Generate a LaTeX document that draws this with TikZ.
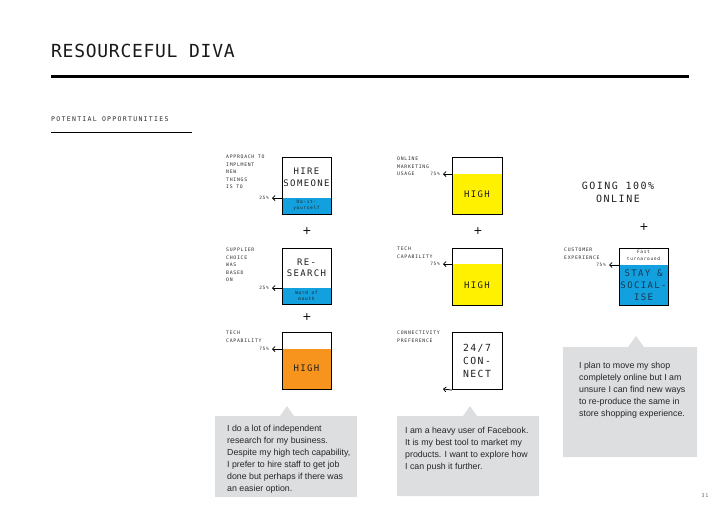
\documentclass[tikz,border=0pt]{standalone}
\usepackage{fontspec}
\setmainfont{Liberation Sans}
\newfontfamily\titlefont[LetterSpace=4]{DejaVu Sans Mono}
\newfontfamily\boxfont[LetterSpace=15]{DejaVu Sans Mono}
\newfontfamily\subfont[LetterSpace=20]{DejaVu Sans Mono}
\newfontfamily\plusfont{DejaVu Sans}
\usetikzlibrary{arrows.meta}
\definecolor{cblue}{RGB}{18,160,222}
\definecolor{corange}{RGB}{247,148,30}
\definecolor{cyellow}{RGB}{255,241,0}
\definecolor{cgray}{RGB}{221,222,224}
\definecolor{ctext}{RGB}{45,45,45}
\begin{document}
\begin{tikzpicture}[x=1pt,y=-1pt,
  lbl/.style={anchor=north west, inner sep=0, align=left, text=ctext, font=\boxfont\fontsize{4.8}{7.5}\selectfont},
  pct/.style={anchor=east, inner sep=0, text=ctext, font=\boxfont\fontsize{4.5}{5}\selectfont},
  boxframe/.style={draw=black, line width=1.1pt, anchor=north west, inner sep=0, minimum width=49pt},
  bigtxt/.style={inner sep=0, align=center, text=black!88, font=\boxfont\fontsize{9}{11.5}\selectfont},
  tinytxt/.style={inner sep=0, align=center, text=black!85, font=\boxfont\fontsize{4.5}{6.2}\selectfont},
  arr/.style={-{Straight Barb[length=2.5pt,width=5pt]}, line width=0.8pt},
  note/.style={anchor=north west, inner sep=0, align=left, text=black!85, font=\fontsize{8.8}{12}\selectfont},
  plussign/.style={inner sep=0, font=\plusfont\fontsize{11}{11}\selectfont}
]
\useasboundingbox (0,0) rectangle (728,515);

% title
\node[anchor=north west, inner sep=0, text=black!90, font=\titlefont\fontsize{18}{18}\selectfont] (title) at (51,44) {RESOURCEFUL DIVA};
\coordinate (r1a) at (51,76); \coordinate (r1b) at (689,76);
\draw[line width=3pt] (r1a) -- (r1b);
\node[anchor=north west, inner sep=0, text=ctext, font=\subfont\fontsize{6.5}{6.5}\selectfont] (sub) at (51,116) {POTENTIAL OPPORTUNITIES};
\coordinate (r2a) at (51,132); \coordinate (r2b) at (192,132);
\draw[line width=0.9pt] (r2a) -- (r2b);

% ---------- column 1 ----------
\node[lbl] (l11) at (226,155) {APPROACH TO\\IMPLMENT\\NEW\\THINGS\\IS TO};
\fill[cblue] (282,198) rectangle (331,214);
\node[boxframe, minimum height=57pt] (b11) at (282,157) {};
\node[bigtxt] (b11t) at (306.5,177.5) {HIRE\\SOMEONE};
\node[tinytxt] (b11s) at (306.5,205.5) {Do-it-\\yourself};
\coordinate (t11) at (272,198);
\draw[arr] (b11.west |- t11) -- (t11);
\node[pct] (p11) at ([xshift=-3pt]t11) {25\%};

\node[plussign] (pl11) at (307,231) {+};

\node[lbl] (l12) at (226,248) {SUPPLIER\\CHOICE\\WAS\\BASED\\ON};
\fill[cblue] (282,288) rectangle (331,304);
\node[boxframe, minimum height=56pt] (b12) at (282,248) {};
\node[bigtxt] (b12t) at (306.5,268) {RE-\\SEARCH};
\node[tinytxt] (b12s) at (306.5,296) {Word of\\mouth};
\coordinate (t12) at (272,288);
\draw[arr] (b12.west |- t12) -- (t12);
\node[pct] (p12) at ([xshift=-3pt]t12) {25\%};

\node[plussign] (pl12) at (307,317) {+};

\node[lbl] (l13) at (226,331) {TECH\\CAPABILITY};
\fill[corange] (282,349) rectangle (331,389);
\node[boxframe, minimum height=57pt] (b13) at (282,332) {};
\node[bigtxt] (b13t) at (306.5,368) {HIGH};
\coordinate (t13) at (272,349);
\draw[arr] (b13.west |- t13) -- (t13);
\node[pct] (p13) at ([xshift=-3pt]t13) {75\%};

% callout 1
\fill[cgray] (215,416) -- (280,416) -- (287,406) -- (294,416) -- (357,416) -- (357,497) -- (215,497) -- cycle;
\node[note] (n1) at (227,425) {I do a lot of independent\\research for my business.\\Despite my high tech capability,\\I prefer to hire staff to get job\\done but perhaps if there was\\an easier option.};

% ---------- column 2 ----------
\node[lbl] (l21) at (397,157) {ONLINE\\MARKETING\\USAGE};
\fill[cyellow] (452,174) rectangle (502,214);
\node[boxframe, minimum width=50pt, minimum height=57pt] (b21) at (452,157) {};
\node[bigtxt] (b21t) at (477,194) {HIGH};
\coordinate (t21) at (443,174);
\draw[arr] (b21.west |- t21) -- (t21);
\node[pct] (p21) at ([xshift=-3pt]t21) {75\%};

\node[plussign] (pl21) at (478,231) {+};

\node[lbl] (l22) at (397,247) {TECH\\CAPABILITY};
\fill[cyellow] (452,264) rectangle (502,305);
\node[boxframe, minimum width=50pt, minimum height=57pt] (b22) at (452,248) {};
\node[bigtxt] (b22t) at (477,285) {HIGH};
\coordinate (t22) at (443,264);
\draw[arr] (b22.west |- t22) -- (t22);
\node[pct] (p22) at ([xshift=-3pt]t22) {75\%};

\node[lbl] (l23) at (397,331) {CONNECTIVITY\\PREFERENCE};
\node[boxframe, minimum width=50pt, minimum height=57pt] (b23) at (452,332) {};
\node[bigtxt, font=\boxfont\fontsize{9.8}{12.7}\selectfont] (b23t) at (477,361) {24/7\\CON-\\NECT};
\coordinate (t23) at (443,389);
\draw[arr] (b23.south west) -- (t23);

% callout 2
\fill[cgray] (397,416) -- (463,416) -- (470,406) -- (477,416) -- (539,416) -- (539,496) -- (397,496) -- cycle;
\node[note] (n2) at (405,427) {I am a heavy user of Facebook.\\It is my best tool to market my\\products. I want to explore how\\I can push it further.};

% ---------- column 3 ----------
\node[bigtxt, font=\boxfont\fontsize{10}{13}\selectfont] (goal) at (618,192.5) {GOING 100\%\\ONLINE};
\node[plussign] (pl31) at (644,227) {+};

\node[lbl] (l31) at (564,248) {CUSTOMER\\EXPERIENCE};
\fill[cblue] (619,265) rectangle (668,305);
\node[boxframe, minimum height=57pt] (b31) at (619,248) {};
\node[tinytxt, font=\boxfont\fontsize{4.5}{7}\selectfont] (b31s) at (643.5,255.5) {Fast\\turnaround};
\node[bigtxt, font=\boxfont\fontsize{9}{12}\selectfont, text={rgb,255:red,25;green,55;blue,80}] (b31t) at (643.5,285) {STAY \&\\SOCIAL-\\ISE};
\coordinate (t31) at (609,265);
\draw[arr] (b31.west |- t31) -- (t31);
\node[pct] (p31) at ([xshift=-3pt]t31) {75\%};

% callout 3
\fill[cgray] (563,347) -- (628,347) -- (636,336) -- (644,347) -- (697,347) -- (697,457) -- (563,457) -- cycle;
\node[note] (n3) at (579,362) {I plan to move my shop\\completely online but I am\\unsure I can find new ways\\to re-produce the same in\\store shopping experience.};

% page number
\node[inner sep=0, text=black!60, font=\boxfont\fontsize{5}{5}\selectfont] (pg) at (705,496) {31};
\end{tikzpicture}
\end{document}
